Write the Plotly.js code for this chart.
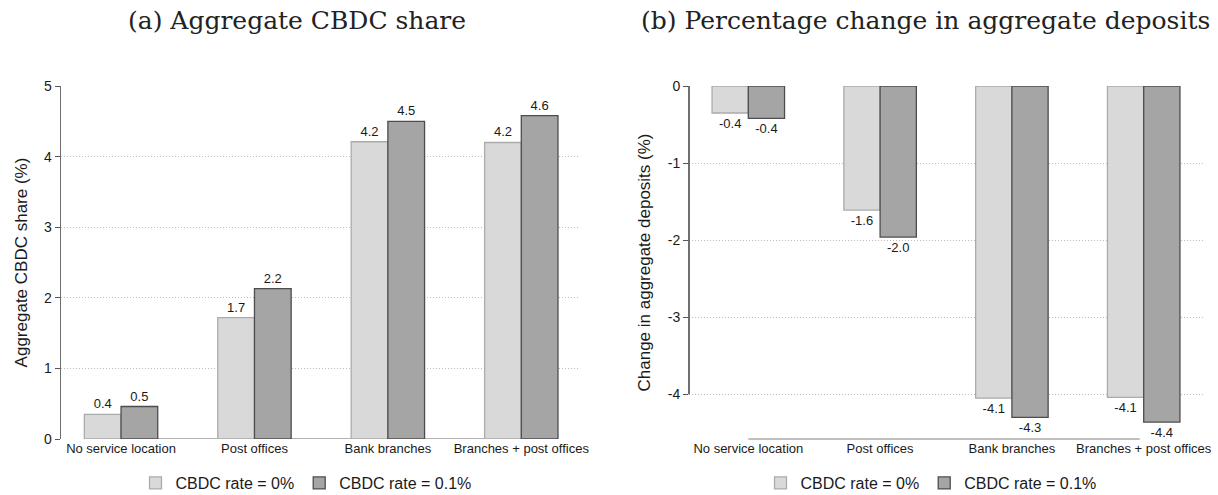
<!DOCTYPE html>
<html>
<head>
<meta charset="utf-8">
<script src="https://cdn.plot.ly/plotly-3.0.1.min.js"></script>
<style>html,body{margin:0;padding:0;background:#fff;}#chart{width:1218px;height:495px;}</style>
</head>
<body>
<div id="chart"></div>
<script>
// ---- data ----
const categories = ["No service location", "Post offices", "Bank branches", "Branches + post offices"];
const seriesNames = ["CBDC rate = 0%", "CBDC rate = 0.1%"];
// (a) Aggregate CBDC share (%)
const shareRate0 = [0.35, 1.72, 4.21, 4.20];
const shareRate01 = [0.46, 2.13, 4.50, 4.58];
const shareLabels0 = ["0.4", "1.7", "4.2", "4.2"];
const shareLabels01 = ["0.5", "2.2", "4.5", "4.6"];
// (b) Percentage change in aggregate deposits (%)
const depRate0 = [-0.35, -1.61, -4.05, -4.04];
const depRate01 = [-0.42, -1.96, -4.30, -4.36];
const depLabels0 = ["-0.4", "-1.6", "-4.1", "-4.1"];
const depLabels01 = ["-0.4", "-2.0", "-4.3", "-4.4"];
const shareTicks = [0, 1, 2, 3, 4, 5];
const shareTickText = ["0", "1", "2", "3", "4", "5"];
const depTicks = [0, -1, -2, -3, -4];
const depTickText = ["0", "-1", "-2", "-3", "-4"];

// ---- styles ----
const W = 1218, H = 495;
const sans = "Liberation Sans, Arial, sans-serif";
const serif = "DejaVu Serif, serif";
const lightFill = "#d9d9d9", lightLine = "#ababab";
const darkFill = "#a5a5a5", darkLine = "#4d4d4d";
const txt = {family: sans, size: 13, color: "#1a1a1a"};

function bar(y, labels, name, fill, line, xa, ya, leg) {
  return {
    type: "bar", x: categories, y: y, name: name,
    xaxis: xa, yaxis: ya, legend: leg,
    marker: {color: fill, line: {color: line, width: 1.3}},
    text: labels, textposition: "outside", textfont: txt,
    constraintext: "none", cliponaxis: false, hoverinfo: "skip"
  };
}

const data = [
  bar(shareRate0, shareLabels0, seriesNames[0], lightFill, lightLine, "x", "y", "legend"),
  bar(shareRate01, shareLabels01, seriesNames[1], darkFill, darkLine, "x", "y", "legend"),
  bar(depRate0, depLabels0, seriesNames[0], lightFill, lightLine, "x2", "y2", "legend2"),
  bar(depRate01, depLabels01, seriesNames[1], darkFill, darkLine, "x2", "y2", "legend2")
];

const pyTop = 86, pyBot = 439;
const yDom = [(H - pyBot) / H, (H - pyTop) / H];

const xCommon = {
  type: "category", showgrid: false, zeroline: false, showline: false,
  ticks: "", tickfont: {family: sans, size: 13, color: "#1a1a1a"}, fixedrange: true
};
const yCommon = {
  showgrid: true, gridcolor: "#bdbdbd", griddash: "1px,2px", gridwidth: 1,
  zeroline: false, ticks: "outside", ticklen: 5, tickcolor: "#555",
  tickfont: {family: sans, size: 14, color: "#1a1a1a"}, fixedrange: true
};

const layout = {
  width: W, height: H,
  margin: {l: 0, r: 0, t: 0, b: 0, autoexpand: false},
  paper_bgcolor: "#fff", plot_bgcolor: "#fff",
  barmode: "group", bargap: 0.45, bargroupgap: 0,
  font: {family: sans, color: "#1a1a1a"},
  xaxis: Object.assign({}, xCommon, {domain: [61 / W, 580 / W], range: [-0.45, 3.44], anchor: "y"}),
  yaxis: Object.assign({}, yCommon, {
    domain: yDom, range: [0, 5], tickvals: shareTicks, ticktext: shareTickText, anchor: "x",
    showline: true, linecolor: "#6e6e6e", linewidth: 1.5,
    title: {text: "Aggregate CBDC share (%)", font: {family: sans, size: 17, color: "#1a1a1a"}, standoff: 12}
  }),
  xaxis2: Object.assign({}, xCommon, {domain: [689 / W, 1203 / W], range: [-0.45, 3.45], anchor: "y2"}),
  yaxis2: Object.assign({}, yCommon, {
    domain: yDom, range: [-4.58, 0], tickvals: depTicks, ticktext: depTickText, anchor: "x2",
    showline: false,
    title: {text: "Change in aggregate deposits (%)", font: {family: sans, size: 17, color: "#1a1a1a"}, standoff: 12}
  }),
  legend: {
    orientation: "h", x: 306 / W, xanchor: "center", y: (H - 483) / H, yanchor: "middle",
    font: {family: sans, size: 16, color: "#1a1a1a"}, bgcolor: "rgba(0,0,0,0)", itemwidth: 30
  },
  legend2: {
    orientation: "h", x: 931 / W, xanchor: "center", y: (H - 483) / H, yanchor: "middle",
    font: {family: sans, size: 16, color: "#1a1a1a"}, bgcolor: "rgba(0,0,0,0)", itemwidth: 30
  },
  annotations: [
    {text: "(a) Aggregate CBDC share", xref: "paper", yref: "paper", x: 297 / W, y: (H - 20) / H,
     xanchor: "center", yanchor: "middle", showarrow: false, font: {family: serif, size: 25, color: "#222"}},
    {text: "(b) Percentage change in aggregate deposits", xref: "paper", yref: "paper", x: 925 / W, y: (H - 20) / H,
     xanchor: "center", yanchor: "middle", showarrow: false, font: {family: serif, size: 25, color: "#222"}}
  ],
  shapes: [
    // baseline of panel (a), spanning the bars
    {type: "line", xref: "x", yref: "y", x0: -0.275, x1: 3.275, y0: 0, y1: 0, line: {color: "#9a9a9a", width: 1.3}, layer: "below"},
    // axis line of panel (b), over the labelled tick range only
    {type: "line", xref: "x2 domain", yref: "y2", x0: 0, x1: 0, y0: 0, y1: -4, line: {color: "#222", width: 1.3}},
    // bottom line of panel (b)
    {type: "line", xref: "x2", yref: "y2 domain", x0: 0, x1: 2.97, y0: 0, y1: 0, line: {color: "#aaaaaa", width: 1.3}}
  ]
};

Plotly.newPlot("chart", data, layout, {staticPlot: true, displayModeBar: false});
</script>
</body>
</html>
